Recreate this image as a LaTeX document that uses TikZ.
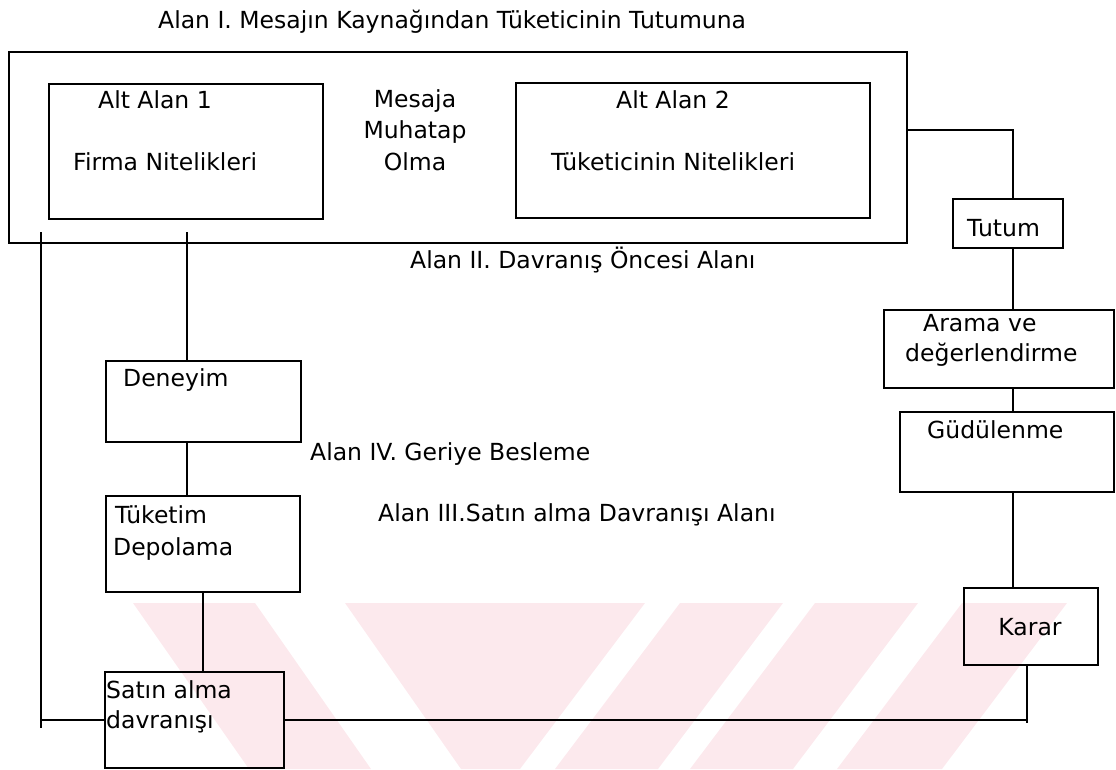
\documentclass[tikz,border=0pt]{standalone}
\usepackage{fontspec}
\setmainfont{DejaVu Sans}
\usetikzlibrary{calc}
\definecolor{wm}{RGB}{252,233,237}
\begin{document}
\begin{tikzpicture}[x=1pt,y=-1pt,
  box/.style={draw, line width=1.7pt, rectangle, inner sep=0pt, anchor=north west},
  txt/.style={anchor=base west, inner sep=0pt, font=\fontsize{23.5}{31}\selectfont},
  ctxt/.style={anchor=base, inner sep=0pt, font=\fontsize{23.5}{31}\selectfont, align=center},
  conn/.style={line width=1.7pt}]
\useasboundingbox (0,0) rectangle (1116,769);
% watermark
\fill[wm] (133,603) -- (255,603) -- (371,769) -- (249,769) -- cycle;
\fill[wm] (345,603) -- (645,603) -- (520,769) -- (461,769) -- cycle;
\fill[wm] (680,603) -- (783,603) -- (658,769) -- (555,769) -- cycle;
\fill[wm] (815,603) -- (918,603) -- (793,769) -- (690,769) -- cycle;
\fill[wm] (962,603) -- (1067,603) -- (942,769) -- (837,769) -- cycle;
% title
\node[txt] (title) at (158,28) {Alan I. Mesajın Kaynağından Tüketicinin Tutumuna};
% boxes
\node[box, minimum width=898pt, minimum height=191pt] (outer) at (8,51) {};
\node[box, minimum width=274pt, minimum height=135pt] (alt1) at (48,83) {};
\node[box, minimum width=354pt, minimum height=135pt] (alt2) at (515,82) {};
\node[box, minimum width=110pt, minimum height=49pt] (tutum) at (952,198) {};
\node[box, minimum width=230pt, minimum height=78pt] (arama) at (883,309) {};
\node[box, minimum width=214pt, minimum height=80pt] (gud) at (899,411) {};
\node[box, minimum width=134pt, minimum height=77pt] (karar) at (963,587) {};
\node[box, minimum width=195pt, minimum height=81pt] (deneyim) at (105,360) {};
\node[box, minimum width=194pt, minimum height=96pt] (tuketim) at (105,495) {};
\node[box, minimum width=179pt, minimum height=96pt] (satin) at (104,671) {};
% texts
\node[txt] (t1a) at (98,108) {Alt Alan 1};
\node[txt] (t1b) at (73,170) {Firma Nitelikleri};
\node[ctxt] (m1) at (415,107) {Mesaja};
\node[ctxt] (m2) at (415,138) {Muhatap};
\node[ctxt] (m3) at (415,170) {Olma};
\node[txt] (t2a) at (616,108) {Alt Alan 2};
\node[txt] (t2b) at (551,170) {Tüketicinin Nitelikleri};
\node[txt] (lab2) at (410,268) {Alan II. Davranış Öncesi Alanı};
\node[txt] (ttum) at (967,236) {Tutum};
\node[txt] (ar1) at (923,331) {Arama ve};
\node[txt] (ar2) at (905,361) {değerlendirme};
\node[txt] (gd) at (927,438) {Güdülenme};
\node[txt] (dn) at (123,386) {Deneyim};
\node[txt] (lab4) at (310,460) {Alan IV. Geriye Besleme};
\node[txt] (tk1) at (115,523) {Tüketim};
\node[txt] (tk2) at (113,555) {Depolama};
\node[txt] (lab3) at (378,521) {Alan III.Satın alma Davranışı Alanı};
\node[txt] (st1) at (106,698) {Satın alma};
\node[txt] (st2) at (106,728) {davranışı};
\node[ctxt] (kr) at (1030,635) {Karar};
% connectors
\coordinate (xr) at (1013,130);
\coordinate (xk) at (1027,723);
\coordinate (xa) at (41,232);
\coordinate (xa2) at (41,728);
\coordinate (xb) at (187,232);
\draw[conn] (outer.east |- xr) -- (xr) -- (xr |- tutum.north);
\draw[conn] (tutum.south -| xr) -- (arama.north -| xr);
\draw[conn] (arama.south -| xr) -- (gud.north -| xr);
\draw[conn] (gud.south -| xr) -- (karar.north -| xr);
\draw[conn] (karar.south -| xk) -- (xk);
\draw[conn] (satin.east) -- (satin.east -| xk);
\draw[conn] (xa) -- (xa2);
\draw[conn] (satin.west -| xa) -- (satin.west);
\draw[conn] (xb) -- (deneyim.north -| xb);
\draw[conn] (deneyim.south -| xb) -- (tuketim.north -| xb);
\draw[conn] (tuketim.south) -- (satin.north -| tuketim.south);
\end{tikzpicture}
\end{document}
